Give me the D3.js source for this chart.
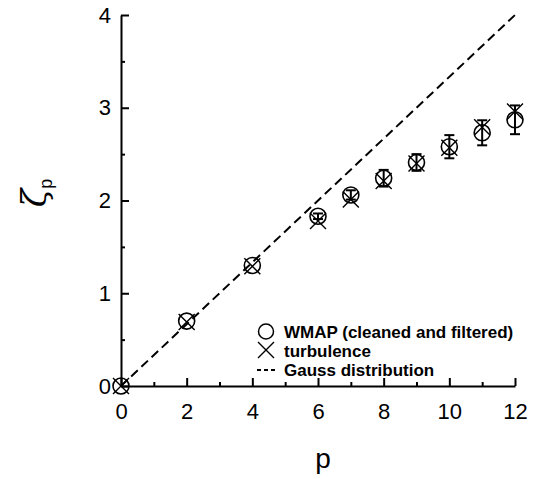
<!DOCTYPE html>
<html>
<head>
<meta charset="utf-8">
<script src="https://cdn.jsdelivr.net/npm/d3@7"></script>
<style>
  html, body { margin: 0; padding: 0; background: #fff; }
  svg { display: block; font-family: "Liberation Sans", Arial, Helvetica, sans-serif; }
</style>
</head>
<body>
<div id="chart"></div>
<script>
// scaling exponents
const pValues   = [0, 2, 4, 6, 7, 8, 9, 10, 11, 12];
const wmapZeta  = [0, 0.70, 1.30, 1.83, 2.06, 2.24, 2.41, 2.58, 2.73, 2.87];
const wmapErr   = [0, 0, 0, 0.03, 0.05, 0.09, 0.09, 0.125, 0.135, 0.155];
const turbZeta  = [0, 0.69, 1.29, 1.78, 2.01, 2.21, 2.40, 2.57, 2.79, 2.96];
const gaussP    = [0, 12];
const gaussZeta = [0, 4];

const xMajor = [0, 2, 4, 6, 8, 10, 12];
const xMinor = [1, 3, 5, 7, 9, 11];
const yMajor = [0, 1, 2, 3, 4];
const yMinor = [0.5, 1.5, 2.5, 3.5];

const legendLabels = ["WMAP (cleaned and filtered)", "turbulence", "Gauss distribution"];

function draw() {
  const fullWidth = 538, fullHeight = 479;
  const margin = { top: 15, bottom: 93, left: 121, right: 23 };

  const svg = d3.select("#chart").append("svg")
    .attr("width", fullWidth)
    .attr("height", fullHeight);

  const x = d3.scaleLinear().domain([0, 12]).range([margin.left, fullWidth - margin.right]);
  const y = d3.scaleLinear().domain([0, 4]).range([fullHeight - margin.bottom, margin.top]);

  // x axis, ticks pointing inward
  svg.append("g")
    .attr("transform", "translate(0," + y(0) + ")")
    .call(d3.axisBottom(x).tickValues(xMajor).tickFormat(d3.format("d"))
      .tickSizeInner(-8).tickSizeOuter(0).tickPadding(17));
  svg.append("g")
    .attr("transform", "translate(0," + y(0) + ")")
    .call(d3.axisBottom(x).tickValues(xMinor).tickSizeInner(-4).tickSizeOuter(0).tickFormat(""))
    .select(".domain").remove();

  svg.append("g")
    .attr("transform", "translate(" + x(0) + ",0)")
    .call(d3.axisLeft(y).tickValues(yMajor).tickFormat(d3.format("d"))
      .tickSizeInner(-8).tickSizeOuter(0).tickPadding(10));
  svg.append("g")
    .attr("transform", "translate(" + x(0) + ",0)")
    .call(d3.axisLeft(y).tickValues(yMinor).tickSizeInner(-4).tickSizeOuter(0).tickFormat(""))
    .select(".domain").remove();

  svg.selectAll(".domain, .tick line")
    .attr("stroke", "#000")
    .attr("stroke-width", 2);
  svg.selectAll(".tick text")
    .attr("font-size", 22)
    .attr("font-family", "Liberation Sans, Arial, sans-serif")
    .attr("fill", "#000");

  // axis titles
  svg.append("text")
    .attr("x", 323)
    .attr("y", 468)
    .attr("text-anchor", "middle")
    .attr("font-size", 28)
    .text("p");

  const ylab = svg.append("text")
    .attr("transform", "translate(46,193) rotate(-90)")
    .attr("text-anchor", "middle")
    .attr("font-family", "DejaVu Serif, serif")
    .attr("font-style", "italic")
    .attr("font-size", 34);
  ylab.append("tspan").text("ζ");
  ylab.append("tspan")
    .attr("font-family", "Liberation Sans, Arial, sans-serif")
    .attr("font-style", "normal")
    .attr("font-size", 18)
    .attr("dy", 6)
    .text("p");

  // Gauss distribution line
  const line = d3.line().x(d => x(d[0])).y(d => y(d[1]));
  svg.append("path")
    .datum(d3.zip(gaussP, gaussZeta))
    .attr("d", line)
    .attr("fill", "none")
    .attr("stroke", "#000")
    .attr("stroke-width", 2)
    .attr("stroke-dasharray", "9,5");

  const wmap = pValues.map((p, i) => ({ p: p, z: wmapZeta[i], e: wmapErr[i] }));
  const turb = pValues.map((p, i) => ({ p: p, z: turbZeta[i] }));

  // error bars
  const eb = svg.append("g").selectAll("g")
    .data(wmap.filter(d => d.e > 0))
    .join("g")
    .attr("stroke", "#000")
    .attr("stroke-width", 2);
  eb.append("line")
    .attr("x1", d => x(d.p)).attr("x2", d => x(d.p))
    .attr("y1", d => y(d.z - d.e)).attr("y2", d => y(d.z + d.e));
  eb.append("line")
    .attr("x1", d => x(d.p) - 5).attr("x2", d => x(d.p) + 5)
    .attr("y1", d => y(d.z + d.e)).attr("y2", d => y(d.z + d.e));
  eb.append("line")
    .attr("x1", d => x(d.p) - 5).attr("x2", d => x(d.p) + 5)
    .attr("y1", d => y(d.z - d.e)).attr("y2", d => y(d.z - d.e));

  // WMAP circles
  svg.append("g").selectAll("circle")
    .data(wmap)
    .join("circle")
    .attr("cx", d => x(d.p))
    .attr("cy", d => y(d.z))
    .attr("r", 8)
    .attr("fill", "none")
    .attr("stroke", "#000")
    .attr("stroke-width", 1.6);

  // turbulence crosses
  const xs = 8;
  svg.append("g").selectAll("path")
    .data(turb)
    .join("path")
    .attr("d", d => {
      const cx = x(d.p), cy = y(d.z);
      return "M" + (cx - xs) + "," + (cy - xs) + "L" + (cx + xs) + "," + (cy + xs) +
             "M" + (cx - xs) + "," + (cy + xs) + "L" + (cx + xs) + "," + (cy - xs);
    })
    .attr("fill", "none")
    .attr("stroke", "#000")
    .attr("stroke-width", 1.4);

  // legend
  const lg = svg.append("g").attr("font-size", 17).attr("font-weight", "bold");
  lg.append("circle")
    .attr("cx", 266).attr("cy", 331.5).attr("r", 7.5)
    .attr("fill", "none").attr("stroke", "#000").attr("stroke-width", 1.5);
  lg.append("path")
    .attr("d", "M258,342L274,358M258,358L274,342")
    .attr("stroke", "#000").attr("stroke-width", 1.4);
  lg.append("path")
    .attr("d", "M257,370L275,370")
    .attr("stroke", "#000").attr("stroke-width", 2)
    .attr("stroke-dasharray", "4,3");
  lg.selectAll("text")
    .data(legendLabels)
    .join("text")
    .attr("x", 284)
    .attr("y", (d, i) => 337.5 + i * 19)
    .text(d => d);
}

draw();
</script>
</body>
</html>
